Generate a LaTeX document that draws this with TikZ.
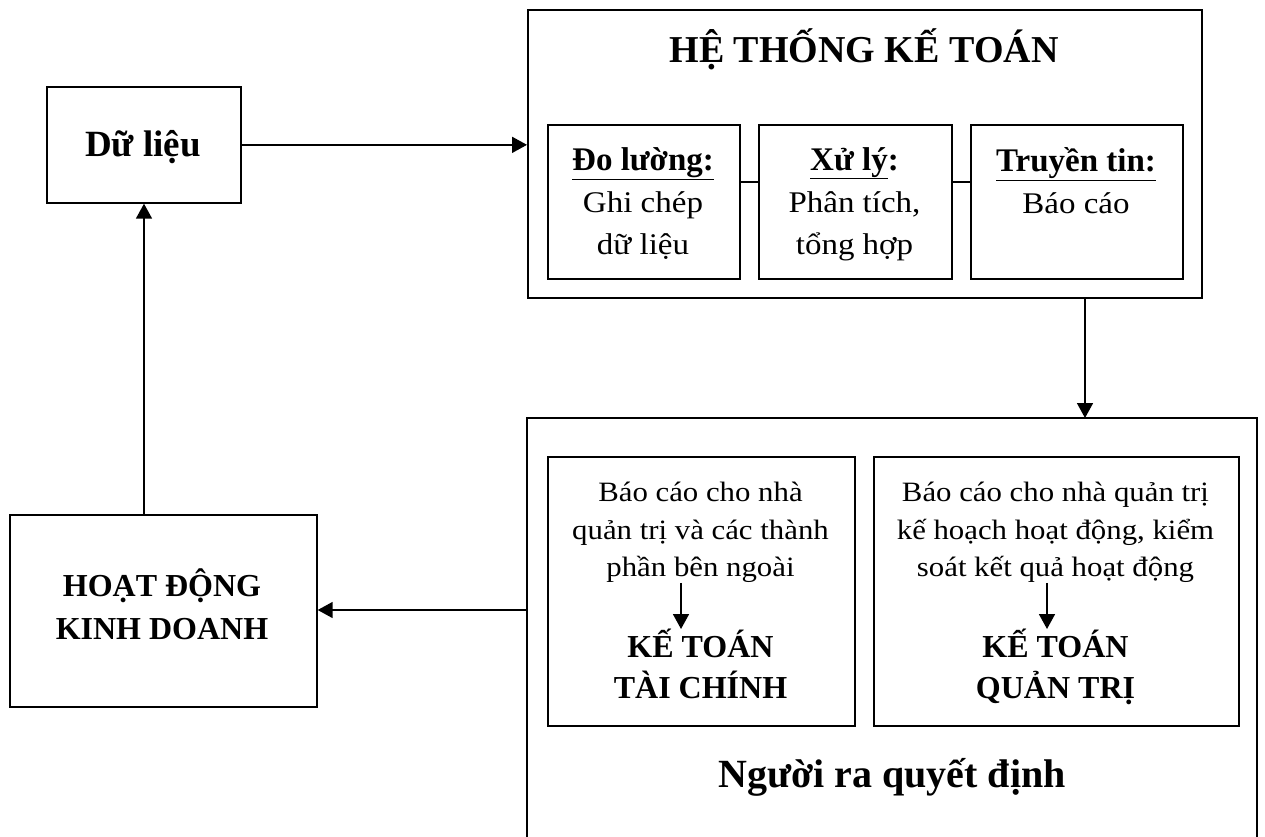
\documentclass[tikz,border=0pt]{standalone}
\usepackage{fontspec}
\setmainfont{Liberation Serif}
\newfontfamily\bodyf{Liberation Serif}[FakeStretch=1.1]
\usetikzlibrary{arrows.meta,calc}
\tikzset{
  box/.style={draw, line width=1.7pt, inner sep=0pt, anchor=north west},
  txt/.style={inner sep=0pt, align=center},
  arr/.style={line width=1.7pt, -{Triangle[length=15pt,width=16pt]}},
  ln/.style={line width=1.7pt},
  body/.style={font=\bodyf\fontsize{28}{37.5}\selectfont},
}
\newcommand{\hd}[1]{{\rmfamily\bfseries\fontsize{33}{42}\selectfont #1}}
\begin{document}
\begin{tikzpicture}[x=1pt,y=-1pt]
\useasboundingbox (0,0) rectangle (1265,836);
% left boxes
\node[box, minimum width=194, minimum height=116] (dl) at (46,86) {};
\node[txt, anchor=base, font=\bfseries\fontsize{37}{40}\selectfont] (dlt) at (143,156) {Dữ liệu};
\node[box, minimum width=307, minimum height=192] (hd) at (9,514) {};
\node[txt, anchor=north, font=\bfseries\fontsize{32}{43}\selectfont] (hdt) at (162,569) {HOẠT ĐỘNG\\KINH DOANH};
% accounting system
\node[box, minimum width=674, minimum height=288] (ht) at (527,9) {};
\node[txt, anchor=base, font=\bfseries\fontsize{38}{40}\selectfont] (htt) at (864,62) {HỆ THỐNG KẾ TOÁN};
\node[box, minimum width=192, minimum height=154] (b1) at (547,124) {};
\node[box, minimum width=193, minimum height=154] (b2) at (758,124) {};
\node[box, minimum width=212, minimum height=154] (b3) at (970,124) {};
\node[txt, anchor=north, font=\bodyf\fontsize{30}{42}\selectfont] (b1t) at (643,147) {\hd{\underline{Đo lường:}}\\Ghi chép\\dữ liệu};
\node[txt, anchor=north, font=\bodyf\fontsize{30}{42}\selectfont] (b2t) at (854.5,147) {\hd{\underline{Xử lý}:}\\Phân tích,\\tổng hợp};
\node[txt, anchor=north, font=\bodyf\fontsize{30}{42}\selectfont] (b3t) at (1076,147) {\hd{\underline{Truyền tin:}}\\Báo cáo};
\draw[ln] (b1.east |- 0,182) -- (b2.west |- 0,182);
\draw[ln] (b2.east |- 0,182) -- (b3.west |- 0,182);
% decision makers (open at the bottom)
\coordinate (nl) at (527,418);
\coordinate (nr) at (1257,418);
\coordinate (nlb) at (527,840);
\coordinate (nrb) at (1257,840);
\draw[ln] (nlb) -- (nl) -- (nr) -- (nrb);
\node[box, minimum width=307, minimum height=269] (kt) at (547,456) {};
\node[box, minimum width=365, minimum height=269] (kq) at (873,456) {};
\node[txt, anchor=north, body] (kt1) at (700.5,482) {Báo cáo cho nhà\\quản trị và các thành\\phần bên ngoài};
\node[txt, anchor=north, font=\bfseries\fontsize{32}{41}\selectfont] (kt2) at (700.5,629) {KẾ TOÁN\\TÀI CHÍNH};
\node[txt, anchor=north, body] (kq1) at (1055.5,482) {Báo cáo cho nhà quản trị\\kế hoạch hoạt động, kiểm\\soát kết quả hoạt động};
\node[txt, anchor=north, font=\bfseries\fontsize{32}{41}\selectfont] (kq2) at (1055.5,629) {KẾ TOÁN\\QUẢN TRỊ};
\node[txt, anchor=base, font=\bfseries\fontsize{40}{44}\selectfont] (nq) at (892,787) {Người ra quyết định};
% connectors
\draw[arr] (dl.east) -- (ht.west |- dl.east);
\draw[arr] (ht.south -| 1085,0) -- (nl -| 1085,0);
\draw[arr] (nl |- 0,610) -- (hd.east |- 0,610);
\draw[arr] (hd.north -| 144,0) -- (dl.south -| 144,0);
\draw[arr] (kt1.south -| 681,0) -- (kt2.north -| 681,0);
\draw[arr] (kq1.south -| 1047,0) -- (kq2.north -| 1047,0);
\end{tikzpicture}
\end{document}
